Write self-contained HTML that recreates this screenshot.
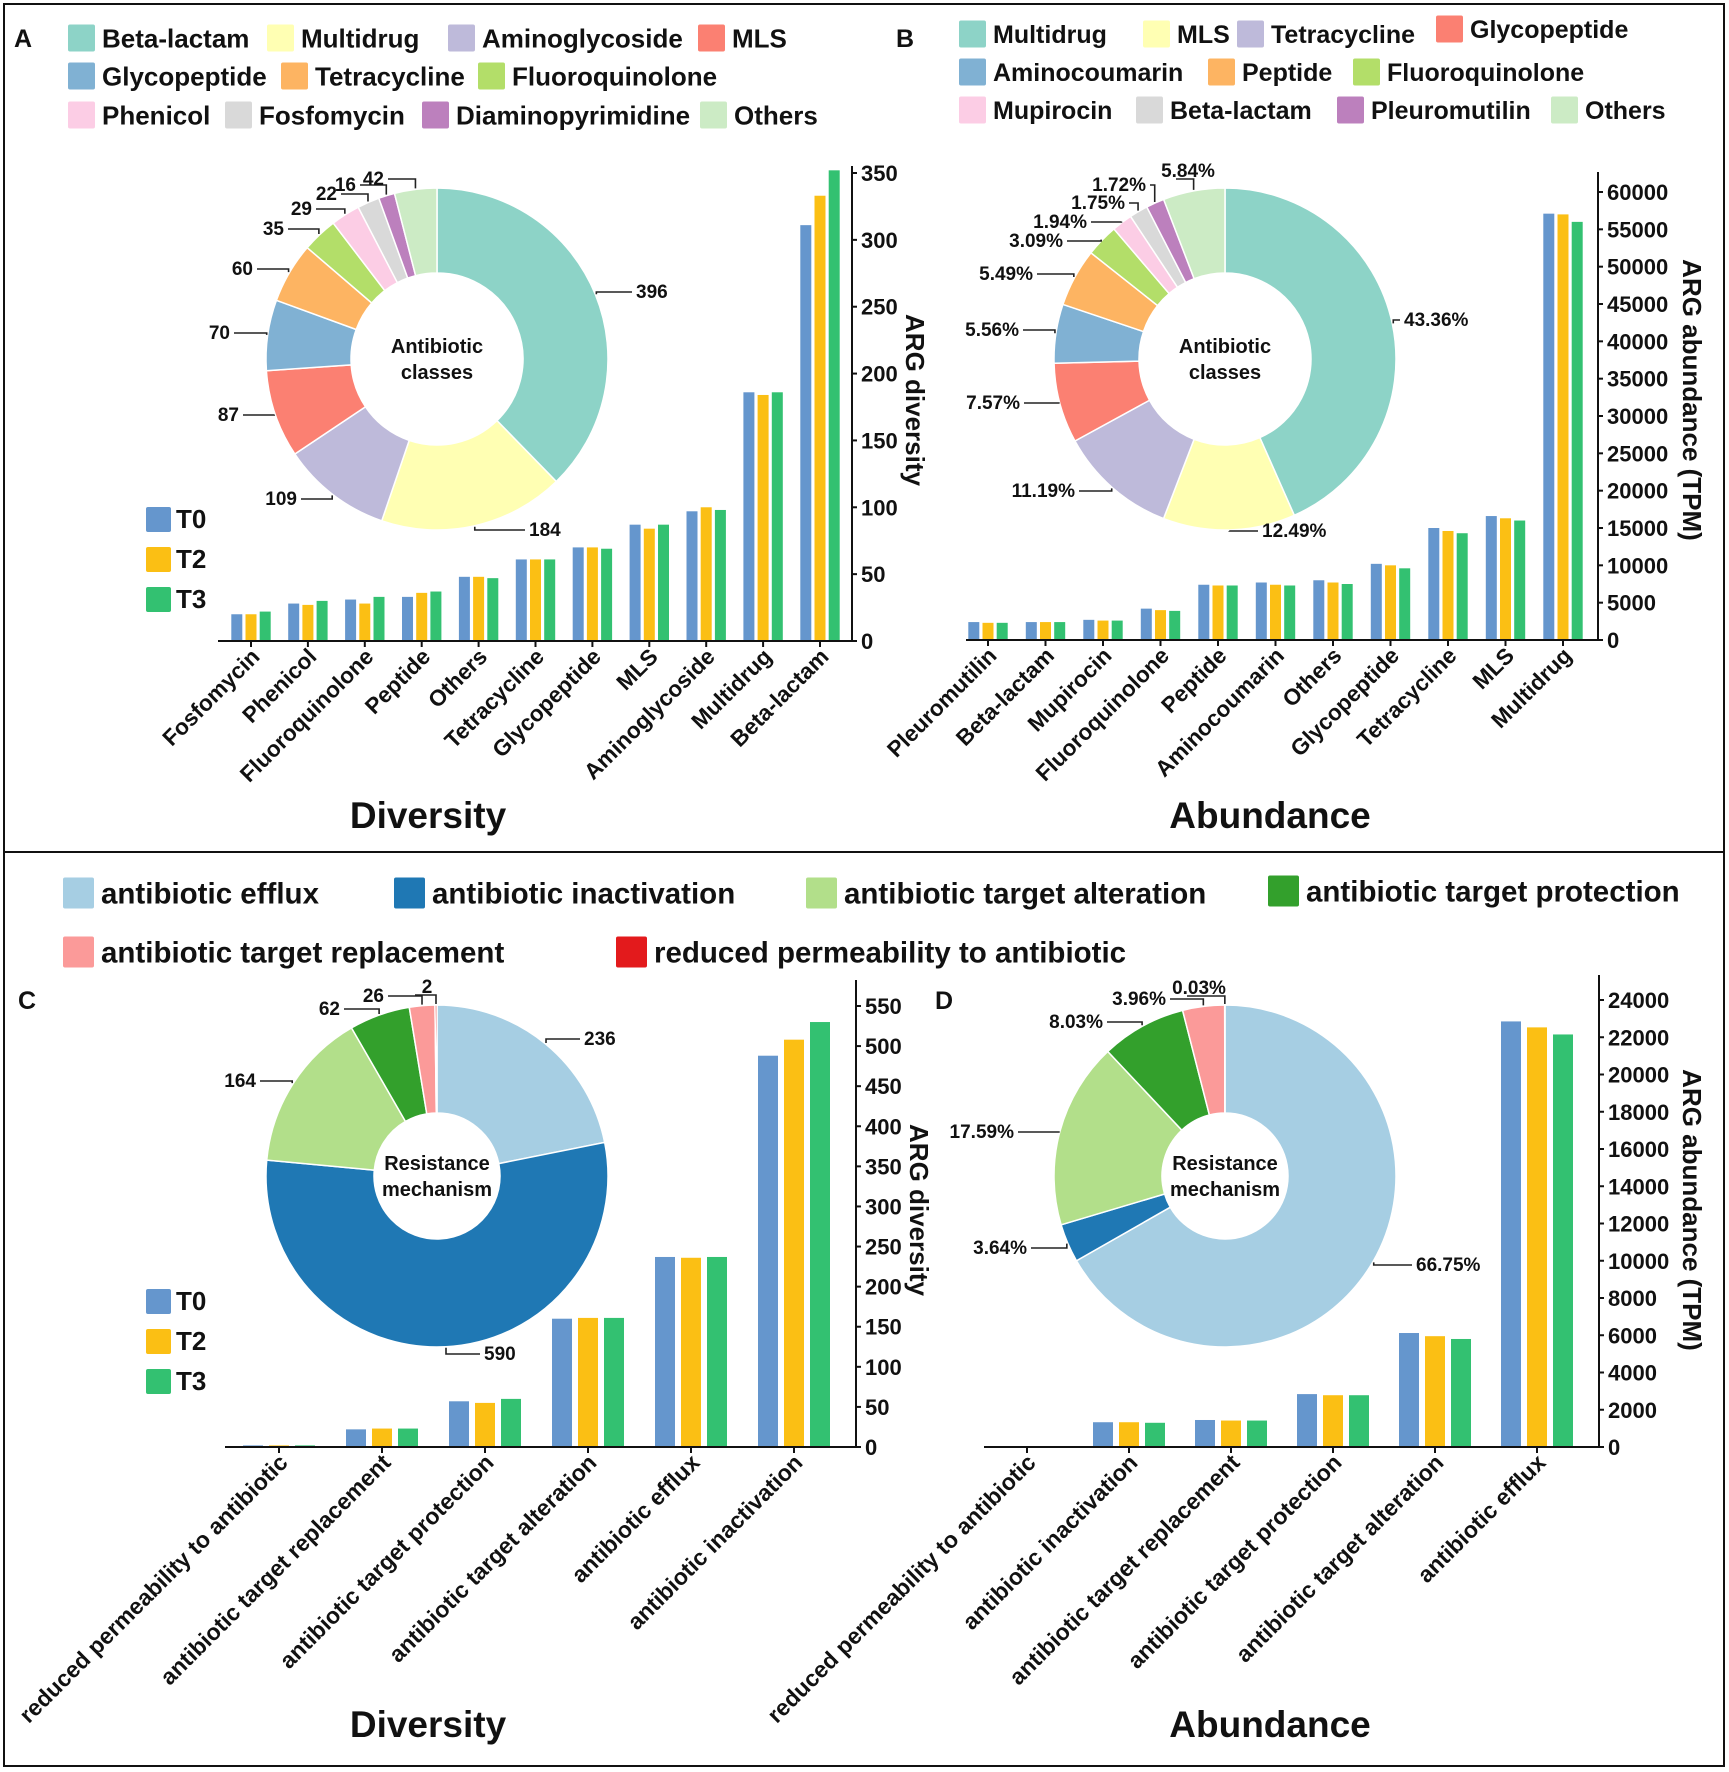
<!DOCTYPE html>
<html><head><meta charset="utf-8">
<style>
html,body{margin:0;padding:0;background:#fff;}
svg{display:block;font-family:"Liberation Sans",Arial,sans-serif;font-weight:bold;}
</style></head>
<body>
<svg id="fig" width="1729" height="1772" viewBox="0 0 1729 1772" xmlns="http://www.w3.org/2000/svg">
<rect x="0" y="0" width="1729" height="1772" fill="#fff"/>
<rect x="4" y="4" width="1720" height="1762" fill="none" stroke="#111" stroke-width="2"/>
<line x1="4" y1="852" x2="1724" y2="852" stroke="#111" stroke-width="2"/>
<g id="root"></g>
</svg>
<script>
// ---------- Panel A data ----------
const catA = ["Fosfomycin","Phenicol","Fluoroquinolone","Peptide","Others","Tetracycline","Glycopeptide","MLS","Aminoglycoside","Multidrug","Beta-lactam"];
const t0A = [20,28,31,33,48,61,70,87,97,186,311];
const t2A = [20,27,28,36,48,61,70,84,100,184,333];
const t3A = [22,30,33,37,47,61,69,87,98,186,352];
const ticksA = [0,50,100,150,200,250,300,350];
const pieLabelsA = ["Beta-lactam","Multidrug","Aminoglycoside","MLS","Glycopeptide","Tetracycline","Fluoroquinolone","Phenicol","Fosfomycin","Diaminopyrimidine","Others"];
const pieValuesA = [396,184,109,87,70,60,35,29,22,16,42];
const pieTextA = ["396","184","109","87","70","60","35","29","22","16","42"];
// ---------- Panel B data ----------
const catB = ["Pleuromutilin","Beta-lactam","Mupirocin","Fluoroquinolone","Peptide","Aminocoumarin","Others","Glycopeptide","Tetracycline","MLS","Multidrug"];
const t0B = [2400,2400,2700,4200,7400,7700,8000,10200,15000,16600,57100];
const t2B = [2300,2400,2600,4000,7300,7400,7700,10000,14600,16300,57000];
const t3B = [2300,2400,2600,3900,7300,7300,7500,9600,14300,16000,56000];
const ticksB = [0,5000,10000,15000,20000,25000,30000,35000,40000,45000,50000,55000,60000];
const pieLabelsB = ["Multidrug","MLS","Tetracycline","Glycopeptide","Aminocoumarin","Peptide","Fluoroquinolone","Mupirocin","Beta-lactam","Pleuromutilin","Others"];
const pieValuesB = [43.36,12.49,11.19,7.57,5.56,5.49,3.09,1.94,1.75,1.72,5.84];
const pieTextB = ["43.36%","12.49%","11.19%","7.57%","5.56%","5.49%","3.09%","1.94%","1.75%","1.72%","5.84%"];
// ---------- Panel C data ----------
const catC = ["reduced permeability to antibiotic","antibiotic target replacement","antibiotic target protection","antibiotic target alteration","antibiotic efflux","antibiotic inactivation"];
const t0C = [2,22,57,160,237,488];
const t2C = [2,23,55,161,236,508];
const t3C = [2,23,60,161,237,530];
const ticksC = [0,50,100,150,200,250,300,350,400,450,500,550];
const pieLabelsC = ["antibiotic efflux","antibiotic inactivation","antibiotic target alteration","antibiotic target protection","antibiotic target replacement","reduced permeability to antibiotic"];
const pieValuesC = [236,590,164,62,26,2];
const pieTextC = ["236","590","164","62","26","2"];
// ---------- Panel D data ----------
const catD = ["reduced permeability to antibiotic","antibiotic inactivation","antibiotic target replacement","antibiotic target protection","antibiotic target alteration","antibiotic efflux"];
const t0D = [10,1330,1450,2840,6120,22850];
const t2D = [10,1330,1420,2780,5950,22530];
const t3D = [10,1300,1420,2780,5800,22150];
const ticksD = [0,2000,4000,6000,8000,10000,12000,14000,16000,18000,20000,22000,24000];
const pieValuesD = [66.75,3.64,17.59,8.03,3.96,0.03];
const pieTextD = ["66.75%","3.64%","17.59%","8.03%","3.96%","0.03%"];

// ---------- styling / layout ----------
const set3 = {"Beta-lactam":"#8dd3c7","Multidrug":"#ffffb3","Aminoglycoside":"#bebada","MLS":"#fb8072","Glycopeptide":"#80b1d3","Tetracycline":"#fdb462","Fluoroquinolone":"#b3de69","Phenicol":"#fccde5","Fosfomycin":"#d9d9d9","Diaminopyrimidine":"#bc80bd","Others":"#ccebc5"};
const setB = {"Multidrug":"#8dd3c7","MLS":"#ffffb3","Tetracycline":"#bebada","Glycopeptide":"#fb8072","Aminocoumarin":"#80b1d3","Peptide":"#fdb462","Fluoroquinolone":"#b3de69","Mupirocin":"#fccde5","Beta-lactam":"#d9d9d9","Pleuromutilin":"#bc80bd","Others":"#ccebc5"};
const mech = {"antibiotic efflux":"#a6cee3","antibiotic inactivation":"#1f78b4","antibiotic target alteration":"#b2df8a","antibiotic target protection":"#33a02c","antibiotic target replacement":"#fb9a99","reduced permeability to antibiotic":"#e31a1c"};
const serColors = ["#6596cd","#fbbf14","#33c171"];
const labelPosA = [["s",636,292],["s",529,530],["e",297,499],["e",239,415],["e",230,333],["e",253,269],["e",284,229],["e",312,209],["e",337,194],["e",356,185],["e",384,179]];
const labelPosB = [["s",1404,320],["s",1262,531],["e",1075,491],["e",1020,403],["e",1019,330],["e",1033,274],["e",1063,241],["e",1087,222],["e",1125,203],["e",1146,185],["m",1188,171]];
const labelPosC = [["s",584,1039],["s",484,1354],["e",256,1081],["e",340,1009],["e",384,996],["m",427,987]];
const labelPosD = [["s",1416,1265],["e",1027,1248],["e",1014,1132],["e",1103,1022],["e",1166,999],["m",1199,988]];

const NS = "http://www.w3.org/2000/svg";
const root = document.getElementById("root");
function mk(tag, attrs, parent){
  const el = document.createElementNS(NS, tag);
  for (const k in attrs) el.setAttribute(k, attrs[k]);
  (parent||root).appendChild(el);
  return el;
}
function txt(x,y,s,size,anchor,parent,extra){
  const t = mk("text",Object.assign({x:x,y:y,"font-size":size,"text-anchor":anchor||"start",fill:"#111"},extra||{}),parent);
  t.textContent = s;
  return t;
}

function legend(items, colors, pos, size, sw, prefix){
  items.forEach((name,i)=>{
    const p = pos[i];
    const g = mk("g",{});
    
    
    mk("rect",{x:p[0],y:p[1]-sw/2,width:sw,height:sw,rx:2,fill:colors[name]},g);
    txt(p[0]+sw+7,p[1]+size*0.36,name,size,"start",g);
  });
}

function barChart(o){
  const g = mk("g",{});
  
  
  const yScale = v => o.y0 - (v - 0) * (o.y0 - o.yTopPx) / o.yTopVal;
  const xCenter = i => o.x0 + i * o.pitch;
  const series = [o.s0,o.s1,o.s2];
  const sNames = ["T0","T2","T3"];
  series.forEach((arr,si)=>{
    arr.forEach((v,i)=>{
      const y = yScale(v);
      const r = mk("rect",{x:xCenter(i)+(si-1)*o.off - o.bw/2, y:y, width:o.bw, height:Math.max(0,o.y0-y), fill:serColors[si]},g);
      
      
    });
  });
  const xa = mk("line",{x1:o.xStart,y1:o.y0,x2:o.axisX,y2:o.y0,stroke:"#111","stroke-width":2},g);
  
  
  const ya = mk("line",{x1:o.axisX,y1:o.y0,x2:o.axisX,y2:o.axisTop,stroke:"#111","stroke-width":2},g);
  
  
  o.ticks.forEach(t=>{
    const y = yScale(t);
    mk("line",{x1:o.axisX,y1:y,x2:o.axisX+5,y2:y,stroke:"#111","stroke-width":2},g);
    const tl = txt(o.axisX+9,y+8,String(t),o.tickSize,"start",g);
    
    
  });
  o.cats.forEach((c,i)=>{
    const x = xCenter(i);
    mk("line",{x1:x,y1:o.y0,x2:x,y2:o.y0+6,stroke:"#111","stroke-width":2},g);
    const tl = txt(0,0,c,o.catSize,"end",g,{transform:"translate("+(x+10)+","+(o.y0+17)+") rotate(-45)"});
    
    
  });
  const yt = txt(0,0,o.yTitle,26,"middle",g,{transform:"translate("+o.yTitleX+","+o.yTitleY+") rotate(90)"});
  
  
}

function donut(o){
  const g = mk("g",{});
  
  
  const total = o.values.reduce((a,b)=>a+b,0);
  let a0 = -Math.PI/2;
  const pt = (a,r)=>[o.cx+r*Math.cos(a), o.cy+r*Math.sin(a)];
  o.values.forEach((v,i)=>{
    const a1 = a0 + v/total*2*Math.PI;
    const large = (a1-a0)>Math.PI?1:0;
    const p1=pt(a0,o.R),p2=pt(a1,o.R),p3=pt(a1,o.r),p4=pt(a0,o.r);
    const d = "M"+p1[0]+" "+p1[1]+" A"+o.R+" "+o.R+" 0 "+large+" 1 "+p2[0]+" "+p2[1]+
              " L"+p3[0]+" "+p3[1]+" A"+o.r+" "+o.r+" 0 "+large+" 0 "+p4[0]+" "+p4[1]+" Z";
    const s = mk("path",{d:d,fill:o.colors[o.labels[i]],stroke:"#fff","stroke-width":1.5},g);
    
    
    const am = (a0+a1)/2;
    const e = pt(am,o.R+1);
    const lp = o.pos[i];
    let pts;
    if (lp[0]==="s") pts = [e,[e[0],lp[2]],[lp[1]-4,lp[2]]];
    else if (lp[0]==="e") pts = [e,[e[0],lp[2]],[lp[1]+4,lp[2]]];
    else pts = [e,[e[0],lp[2]+8],[lp[1]-12,lp[2]+8]];
    mk("polyline",{points:pts.map(p=>p.join(",")).join(" "),fill:"none",stroke:"#222","stroke-width":1.6},g);
    const anchor = lp[0]==="s"?"start":(lp[0]==="e"?"end":"middle");
    const t = txt(lp[1],lp[2]+6,o.text[i],19,anchor,g);
    
    
    a0 = a1;
  });
  const l1 = txt(o.cx,o.cy-6,o.center[0],20,"middle",g);
  
  
  txt(o.cx,o.cy+20,o.center[1],20,"middle",g);
}

function seriesLegend(x,y,prefix){
  ["T0","T2","T3"].forEach((n,i)=>{
    const g = mk("g",{});
    
    
    mk("rect",{x:x,y:y+i*40,width:25,height:25,rx:2,fill:serColors[i]},g);
    txt(x+30,y+i*40+21,n,26,"start",g);
  });
}

// ---------- Panel A ----------
txt(14,47,"A",25,"start",root);
legend(["Beta-lactam","Multidrug","Aminoglycoside","MLS","Glycopeptide","Tetracycline","Fluoroquinolone","Phenicol","Fosfomycin","Diaminopyrimidine","Others"], set3,
  [[68,38],[267,38],[448,38],[698,38],[68,76],[281,76],[478,76],[68,115],[225,115],[422,115],[700,115]], 26, 27, "a");
barChart({name:"bar-chart-a",cats:catA,s0:t0A,s1:t2A,s2:t3A,ticks:ticksA,x0:251,pitch:56.9,bw:11,off:14.2,y0:641,yTopPx:173,yTopVal:350,axisX:852,axisTop:166,xStart:218,tickSize:22,catSize:22.5,yTitle:"ARG diversity",yTitleX:906,yTitleY:400});
seriesLegend(146,507,"a");
donut({name:"donut-a",cx:437,cy:359,R:171,r:86,values:pieValuesA,labels:pieLabelsA,colors:set3,text:pieTextA,pos:labelPosA,center:["Antibiotic","classes"]});
txt(428,828,"Diversity",37,"middle",root);

// ---------- Panel B ----------
txt(896,47,"B",25,"start",root);
legend(["Multidrug","MLS","Tetracycline","Glycopeptide","Aminocoumarin","Peptide","Fluoroquinolone","Mupirocin","Beta-lactam","Pleuromutilin","Others"], setB,
  [[959,34],[1143,34],[1237,34],[1436,29],[959,72],[1208,72],[1353,72],[959,110],[1136,110],[1337,110],[1551,110]], 25, 27, "b");
barChart({name:"bar-chart-b",cats:catB,s0:t0B,s1:t2B,s2:t3B,ticks:ticksB,x0:988,pitch:57.5,bw:11,off:14.2,y0:640,yTopPx:192,yTopVal:60000,axisX:1598,axisTop:172,xStart:966,tickSize:22,catSize:22.5,yTitle:"ARG abundance (TPM)",yTitleX:1683,yTitleY:400});
donut({name:"donut-b",cx:1225,cy:359,R:171,r:86,values:pieValuesB,labels:pieLabelsB,colors:setB,text:pieTextB,pos:labelPosB,center:["Antibiotic","classes"]});
txt(1270,828,"Abundance",37,"middle",root);

// ---------- Legend C/D ----------
legend(["antibiotic efflux","antibiotic inactivation","antibiotic target alteration","antibiotic target protection","antibiotic target replacement","reduced permeability to antibiotic"], mech,
  [[63,893],[394,893],[806,893],[1268,891],[63,952],[616,952]], 29.5, 31, "mechanism");

// ---------- Panel C ----------
txt(18,1009,"C",25,"start",root);
barChart({name:"bar-chart-c",cats:catC,s0:t0C,s1:t2C,s2:t3C,ticks:ticksC,x0:279,pitch:103,bw:20,off:26,y0:1447,yTopPx:1006,yTopVal:550,axisX:856,axisTop:980,xStart:225,tickSize:22,catSize:23,yTitle:"ARG diversity",yTitleX:910,yTitleY:1210});
seriesLegend(146,1289,"c");
donut({name:"donut-c",cx:437,cy:1176,R:171,r:63,values:pieValuesC,labels:pieLabelsC,colors:mech,text:pieTextC,pos:labelPosC,center:["Resistance","mechanism"]});
txt(428,1737,"Diversity",37,"middle",root);

// ---------- Panel D ----------
txt(935,1009,"D",25,"start",root);
barChart({name:"bar-chart-d",cats:catD,s0:t0D,s1:t2D,s2:t3D,ticks:ticksD,x0:1027,pitch:102,bw:20,off:26,y0:1447,yTopPx:1000,yTopVal:24000,axisX:1599,axisTop:975,xStart:984,tickSize:22,catSize:23,yTitle:"ARG abundance (TPM)",yTitleX:1683,yTitleY:1210});
donut({name:"donut-d",cx:1225,cy:1176,R:171,r:63,values:pieValuesD,labels:pieLabelsC,colors:mech,text:pieTextD,pos:labelPosD,center:["Resistance","mechanism"]});
txt(1270,1737,"Abundance",37,"middle",root);
</script>
</body></html>
